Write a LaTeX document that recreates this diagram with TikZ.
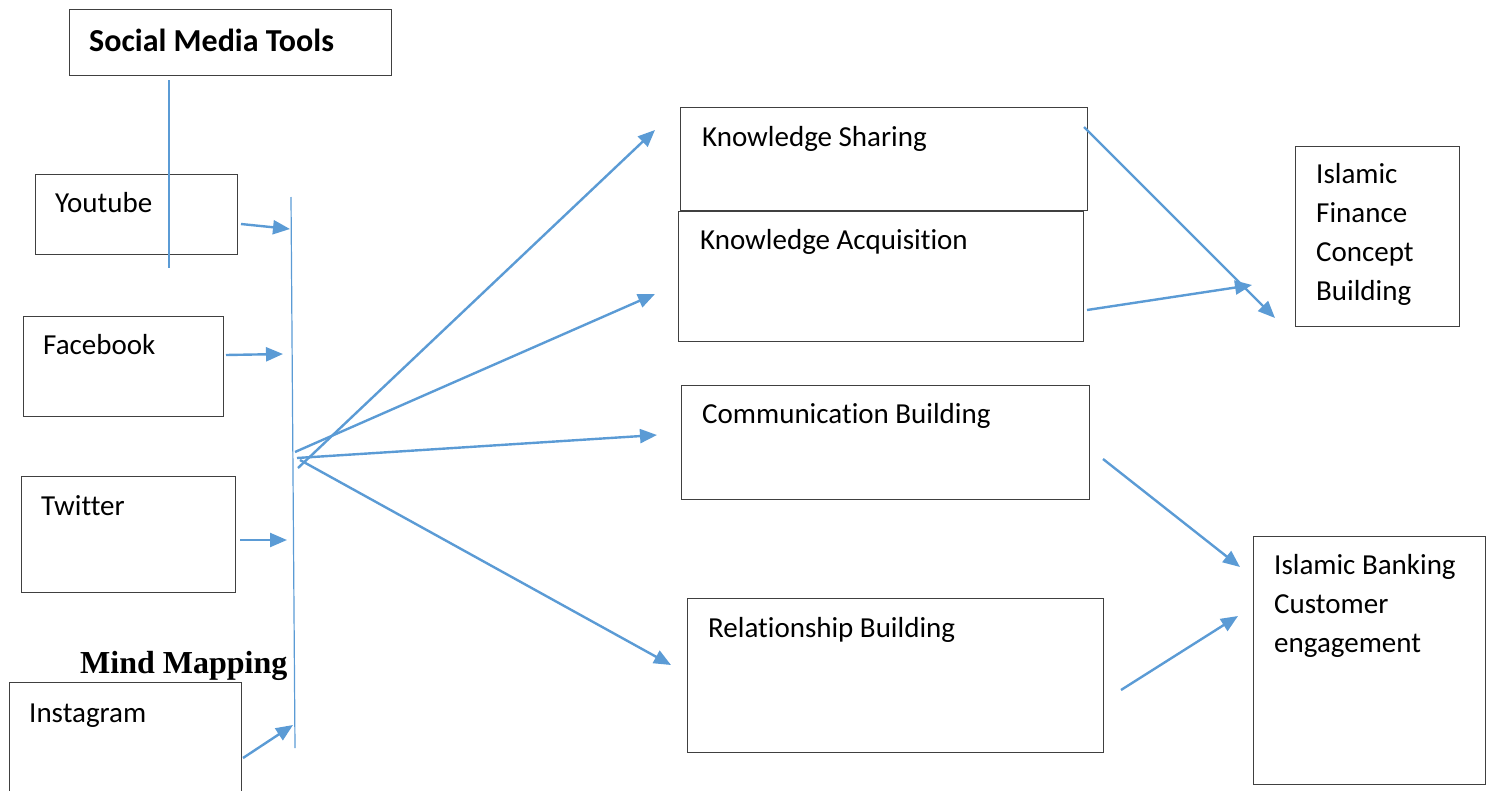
\documentclass[tikz,border=0pt]{standalone}
\usepackage{fontspec}
\setmainfont[RawFeature={-liga;-clig;-dlig;-calt}]{Carlito}
\newfontfamily\timesfont{Liberation Serif}
\usetikzlibrary{arrows.meta}
\definecolor{linkblue}{HTML}{5B9BD5}
\definecolor{boxgray}{HTML}{404040}

\tikzset{
  box/.style={draw=boxgray, line width=1.3pt, anchor=north west, inner sep=0pt},
  lbl/.style={anchor=base west, inner sep=0pt, align=left, font=\fontsize{29}{39}\selectfont},
  link/.style={linkblue, line width=2.4pt, -{Triangle[length=17pt,width=14pt]}},
  bar/.style={linkblue, line width=1.2pt}
}

\begin{document}
\begin{tikzpicture}[x=1pt, y=-1pt]
\useasboundingbox (0,0) rectangle (1486,790);

% boxes
\node[box, minimum width=322pt, minimum height=66pt]  (smt) at (69,9)    {};
\node[box, minimum width=202pt, minimum height=80pt]  (yt)  at (35,174)  {};
\node[box, minimum width=200pt, minimum height=100pt] (fb)  at (23,316)  {};
\node[box, minimum width=214pt, minimum height=116pt] (tw)  at (21,476)  {};
\node[box, minimum width=232pt, minimum height=130pt] (ig)  at (9,682)   {};
\node[box, minimum width=407pt, minimum height=103pt] (ks)  at (680,107) {};
\node[box, minimum width=405pt, minimum height=130pt] (ka)  at (678,211) {};
\node[box, minimum width=408pt, minimum height=114pt] (cb)  at (681,385) {};
\node[box, minimum width=416pt, minimum height=154pt] (rb)  at (687,598) {};
\node[box, minimum width=164pt, minimum height=180pt] (ifc) at (1295,146) {};
\node[box, minimum width=232pt, minimum height=248pt] (ibc) at (1253,536) {};

% texts (multi-line ones sit on their last line)
\node[lbl, font=\fontsize{32}{39}\selectfont\bfseries] (smtt) at (89,51) {Social Media Tools};
\node[lbl] (ytt)  at (55,212)   {Youtube};
\node[lbl] (fbt)  at (43,354)   {Facebook};
\node[lbl] (twt)  at (41,515)   {Twitter};
\node[lbl] (igt)  at (29,722)   {Instagram};
\node[lbl, font=\fontsize{32}{39}\selectfont\timesfont\bfseries] (mm) at (80,673) {Mind Mapping};
\node[lbl] (kst)  at (702,146)  {Knowledge Sharing};
\node[lbl] (kat)  at (700,249)  {Knowledge Acquisition};
\node[lbl] (cbt)  at (702,423)  {Communication Building};
\node[lbl] (rbt)  at (708,637)  {Relationship Building};
\node[lbl] (ifct) at (1316,300) {Islamic\\Finance\\Concept\\Building};
\node[lbl] (ibct) at (1274,652) {Islamic Banking\\Customer\\engagement};

% thin lines
\coordinate (st) at (169,80);
\coordinate (sb) at (169,268);
\draw[bar] (st) -- (sb);
\coordinate (bt) at (291,197);
\coordinate (bb) at (295,748);
\draw[bar] (bt) -- (bb);

% tools to the bar
\coordinate (yt1) at (241,224); \coordinate (yt2) at (290,229);
\coordinate (fb1) at (226,355); \coordinate (fb2) at (283,354);
\coordinate (tw1) at (240,540); \coordinate (tw2) at (287,540);
\coordinate (ig1) at (243,758); \coordinate (ig2) at (293,725);
\draw[link] (yt1) -- (yt2);
\draw[link] (fb1) -- (fb2);
\draw[link] (tw1) -- (tw2);
\draw[link] (ig1) -- (ig2);

% the fan
\coordinate (h1) at (298,468); \coordinate (ks1) at (655,130);
\coordinate (h2) at (295,452); \coordinate (ka1) at (655,294);
\coordinate (h3) at (297,458); \coordinate (cb1) at (657,435);
\coordinate (h4) at (300,460); \coordinate (rb1) at (671,665);
\draw[link] (h1) -- (ks1);
\draw[link] (h2) -- (ka1);
\draw[link] (h3) -- (cb1);
\draw[link] (h4) -- (rb1);

% to the outcomes
\coordinate (ks2) at (1084,127); \coordinate (if1) at (1275,318);
\coordinate (ka2) at (1087,310); \coordinate (if2) at (1252,285);
\coordinate (cb2) at (1103,459); \coordinate (ib1) at (1240,567);
\coordinate (rb2) at (1121,690); \coordinate (ib2) at (1238,616);
\draw[link] (ks2) -- (if1);
\draw[link] (ka2) -- (if2);
\draw[link] (cb2) -- (ib1);
\draw[link] (rb2) -- (ib2);

\end{tikzpicture}
\end{document}
